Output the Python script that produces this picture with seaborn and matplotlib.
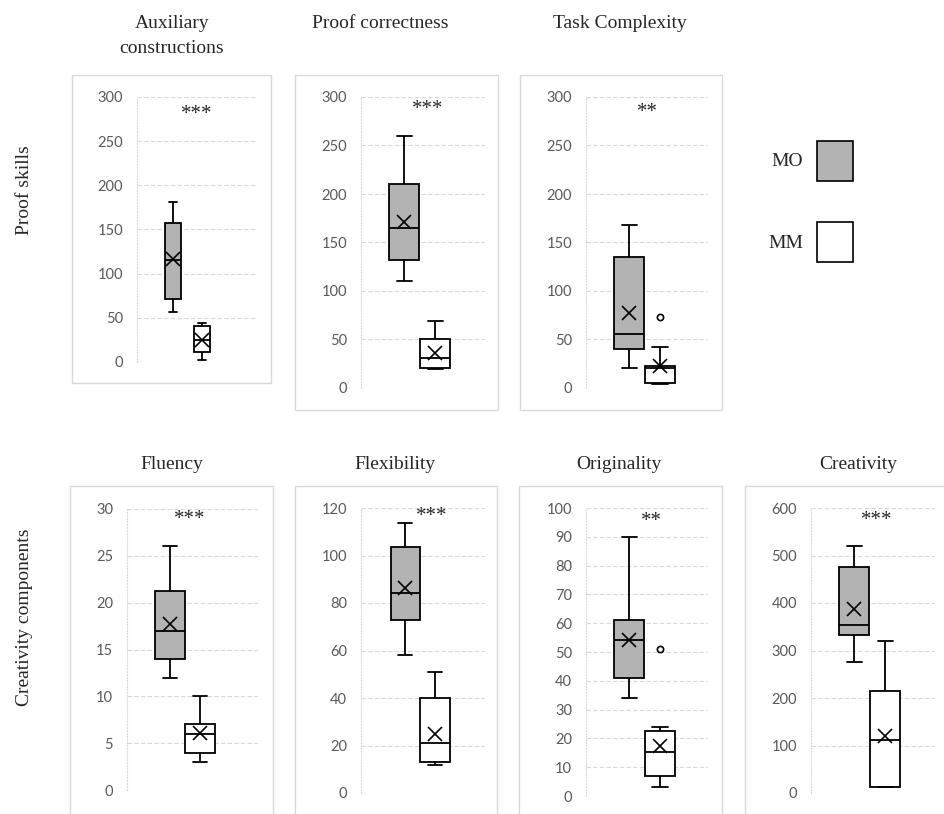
import numpy as np
import pandas as pd
import matplotlib.pyplot as plt
import matplotlib.patches as mpatches
import seaborn as sns

# panel titles and significance marks
titles = ["Auxiliary\nconstructions", "Proof correctness", "Task Complexity",
          "Fluency", "Flexibility", "Originality", "Creativity"]
stars = ["***", "***", "**", "***", "***", "**", "***"]
groups = ["MO", "MM"]

# five-number summaries: min, q1, median, q3, max
mo_box = [[57, 71, 116, 157, 181],
          [110, 132, 165, 210, 260],
          [21, 40, 56, 135, 168],
          [12, 14, 17, 21.2, 26],
          [58, 73, 84.4, 103.5, 113.5],
          [34, 41, 54, 61, 90],
          [276, 333, 353, 475, 521]]
mm_box = [[2, 11, 25, 41, 44],
          [20, 21, 31, 50.5, 69],
          [4, 5, 21, 23, 42],
          [3, 4, 6, 7, 10],
          [12, 13, 21, 40, 51],
          [3.2, 7.1, 15.2, 22.7, 23.8],
          [13, 13, 111, 215, 319]]
mo_mean = [117, 171, 77, 17.7, 86.4, 54.2, 388]
mm_mean = [25, 36, 23, 6.05, 25, 17.4, 121]
mm_outliers = [[], [], [73], [], [], [51], []]
y_max = [300, 300, 300, 30, 120, 100, 600]
y_step = [50, 50, 50, 5, 20, 10, 100]

row_labels = ["Proof skills", "Creativity components"]

W, H = 944, 814

# layout in pixels (x0, y0, x1, y1) of each plot area
axes_px = [(137, 97, 256, 362), (361, 97, 485, 388), (586, 97, 708, 388),
           (127, 509, 258, 790), (361, 508, 485, 793), (586, 508, 708, 796),
           (811, 508, 935, 793)]
frames_px = [(72, 75, 271, 383), (295, 75, 498, 410), (520, 75, 722, 410),
             (70, 486, 273, 830), (295, 486, 497, 830), (519, 486, 722, 830),
             (745, 486, 955, 830)]
x_lims = [(-1.24, 2.86), (-1.39, 2.61), (-1.39, 2.55),
          (-1.43, 2.93), (-1.47, 2.67), (-1.39, 2.55), (-1.39, 2.61)]
box_w = [0.55, 0.97, 0.97, 0.97, 0.97, 0.97, 0.97]
title_px = [(172, 36), (380, 23), (620, 23), (172, 464), (395, 464), (619, 464), (858, 464)]
star_pos = [(0.5, 0.935), (0.54, 0.957), (0.5, 0.947), (0.48, 0.962),
            (0.57, 0.97), (0.54, 0.953), (0.53, 0.956)]

sns.set_style("white")
plt.rcParams['font.family'] = ['Lato', 'DejaVu Sans']
SERIF = 'Liberation Serif'
GRID = '#d9d9d9'
palette = {"MO": "#b3b3b3", "MM": "white"}

rows = []
for i in range(len(titles)):
    for v in mo_box[i]:
        rows.append((i, "MO", v))
    for v in mm_box[i]:
        rows.append((i, "MM", v))
df = pd.DataFrame(rows, columns=["panel", "group", "value"])


def px_rect(x0, y0, x1, y1):
    return [x0 / W, (H - y1) / H, (x1 - x0) / W, (y1 - y0) / H]


fig = plt.figure(figsize=(W / 100, H / 100), dpi=100)

for fr in frames_px:
    l, b, w, h = px_rect(*fr)
    fig.patches.append(mpatches.Rectangle((l, b), w, h, transform=fig.transFigure,
                                          fill=False, edgecolor=GRID, linewidth=1))

for i in range(len(titles)):
    ax = fig.add_axes(px_rect(*axes_px[i]))
    sub = df[df["panel"] == i]
    sns.boxplot(data=sub, x="group", y="value", hue="group", order=groups,
                hue_order=groups, palette=palette, width=box_w[i], whis=(0, 100),
                linecolor="black", linewidth=1.3, saturation=1, legend=False, ax=ax)
    means = pd.DataFrame({"group": groups, "value": [mo_mean[i], mm_mean[i]]})
    sns.pointplot(data=means, x="group", y="value", order=groups, errorbar=None,
                  color="black", marker="x", linestyle="none", markersize=10,
                  markeredgewidth=1.2, ax=ax)
    if mm_outliers[i]:
        sns.stripplot(x=["MM"] * len(mm_outliers[i]), y=mm_outliers[i], order=groups,
                      jitter=False, color="white", edgecolor="black", linewidth=1.2,
                      size=4.5, ax=ax)

    ax.set_xlim(*x_lims[i])
    ax.set_ylim(0, y_max[i])
    ax.set_yticks(np.arange(0, y_max[i] + 1, y_step[i]))
    ax.set_xticks([])
    ax.set_xlabel("")
    ax.set_ylabel("")
    ax.yaxis.grid(True, color=GRID, linestyle=(0, (4, 2)), linewidth=0.8)
    ax.set_axisbelow(True)
    ax.tick_params(axis="y", length=0, pad=10, labelsize=10.5, labelcolor="#595959")
    for s in ["top", "right", "bottom"]:
        ax.spines[s].set_visible(False)
    ax.spines["left"].set_color(GRID)
    ax.spines["left"].set_linestyle(":")
    ax.spines["left"].set_linewidth(0.8)

    ax.text(star_pos[i][0], star_pos[i][1], stars[i], transform=ax.transAxes,
            ha="center", va="center", fontsize=15, family=SERIF)

    tx, ty = title_px[i]
    fig.text(tx / W, 1 - ty / H, titles[i], ha="center", va="center",
             fontsize=14, family=SERIF, linespacing=1.55)

# row labels
fig.text(25 / W, 1 - 190 / H, row_labels[0], rotation=90, ha="center", va="center",
         fontsize=14, family=SERIF)
fig.text(25 / W, 1 - 617 / H, row_labels[1], rotation=90, ha="center", va="center",
         fontsize=14, family=SERIF)

# legend
for g, (ty, y0, y1) in zip(groups, [(162, 141, 181), (243, 222, 262)]):
    fig.text(803 / W, 1 - ty / H, g, ha="right", va="center", fontsize=14, family=SERIF)
    l, b, w, h = px_rect(817, y0, 853, y1)
    fig.patches.append(mpatches.Rectangle((l, b), w, h, transform=fig.transFigure,
                                          facecolor=palette[g], edgecolor="black",
                                          linewidth=1.2))

fig.savefig("out.png", dpi=100)
